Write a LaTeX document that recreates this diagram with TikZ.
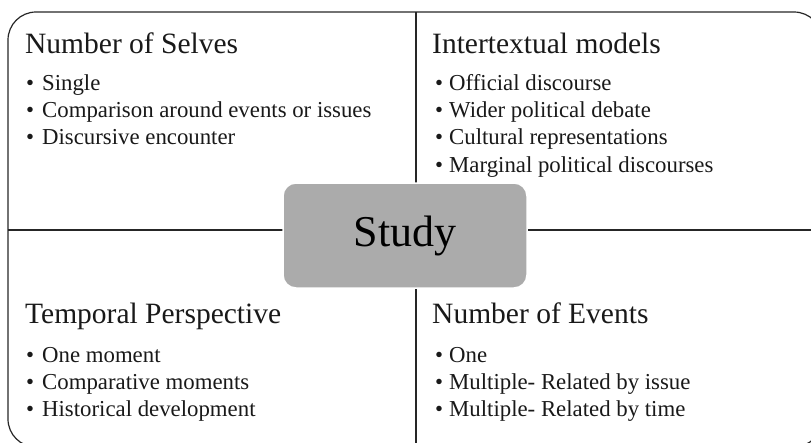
\documentclass[tikz,border=0pt]{standalone}
\usepackage{fontspec}
\setmainfont{Liberation Serif}
\tikzset{>=stealth}
\definecolor{studygray}{RGB}{171,171,171}
\tikzset{
  frameline/.style={line width=1.2pt, draw=black!85},
  heading/.style={anchor=base west, inner sep=0pt, font=\fontsize{29.5}{34}\selectfont, text=black!90},
  item/.style={anchor=base west, inner sep=0pt, font=\fontsize{22.8}{27}\selectfont, text=black!90},
  study/.style={rounded corners=13pt, fill=studygray, draw=white, line width=1.5pt,
    minimum width=244pt, minimum height=105pt, font=\fontsize{44}{50}\selectfont}
}

\begin{document}
\begin{tikzpicture}[x=1pt, y=-1pt]
    \useasboundingbox (0,0) rectangle (811,442);
    \clip (0,0) rectangle (811,442);
    % frame and dividers
    \coordinate (nw) at (8,12);
    \coordinate (se) at (822,447);
    \coordinate (top) at (416,12);
    \coordinate (bottom) at (416,447);
    \coordinate (left) at (8,230);
    \coordinate (right) at (822,230);
    \draw[frameline, rounded corners=28pt] (nw) rectangle (se);
    \draw[frameline] (top) -- (bottom);
    \draw[frameline] (left) -- (right);
    % centre box
    \node[study] (study) at (405,235.5) {Study};
    % top left
    \node[heading] (selves) at (25,53) {Number of Selves};
    \foreach \txt [count=\i] in {Single, Comparison around events or issues, Discursive encounter}
    \node[item] (selves\i) at (26,{90+27.4*(\i-1)}) {\makebox[16pt][l]{•}\txt};
    % top right
    \node[heading] (models) at (432,53) {Intertextual models};
    \foreach \txt [count=\i] in {Official discourse, Wider political debate, Cultural representations, Marginal political discourses}
    \node[item] (models\i) at (435,{90+27.4*(\i-1)}) {\makebox[14pt][l]{•}\txt};
    % bottom left
    \node[heading] (temporal) at (25,323) {Temporal Perspective};
    \foreach \txt [count=\i] in {One moment, Comparative moments, Historical development}
    \node[item] (temporal\i) at (26,{362+27*(\i-1)}) {\makebox[16pt][l]{•}\txt};
    % bottom right
    \node[heading] (events) at (432,323) {Number of Events};
    \foreach \txt [count=\i] in {One, Multiple- Related by issue, Multiple- Related by time}
    \node[item] (events\i) at (435,{362+27*(\i-1)}) {\makebox[14pt][l]{•}\txt};
\end{tikzpicture}
\end{document}
